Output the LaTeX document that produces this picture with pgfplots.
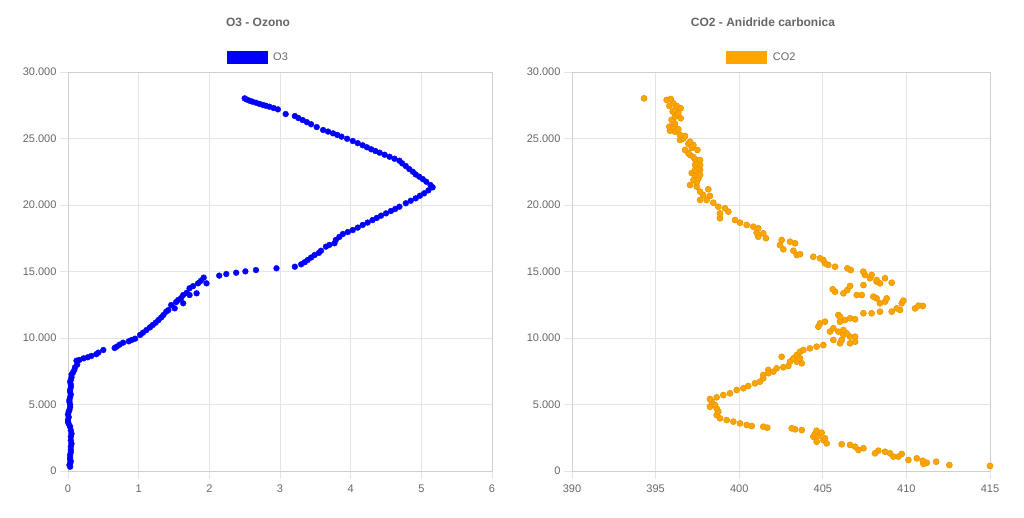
\documentclass[border=0pt]{standalone}
\usepackage{fontspec}
\setmainfont{Liberation Sans}
\usepackage{pgfplots}
\pgfplotsset{compat=1.18}

\definecolor{gridc}{HTML}{E4E4E4}
\definecolor{axisc}{HTML}{CFCFCF}
\definecolor{labc}{HTML}{666666}
\definecolor{ozone}{HTML}{0000FF}
\definecolor{co2c}{HTML}{FFA500}
\definecolor{co2b}{HTML}{E89600}

\pgfplotsset{chartjs/.style={
  scale only axis, height=399pt,
  ymin=0, ymax=30000, ytick={0,5000,...,30000},
  scaled y ticks=false, scaled x ticks=false,
  grid=major, major grid style={gridc, line width=0.8pt},
  axis line style={axisc, line width=0.8pt},
  tick align=outside, major tick length=8pt,
  tick style={gridc, line width=0.8pt},
  xtick pos=bottom, ytick pos=left,
  ticklabel style={font=\fontsize{11}{13}\selectfont, text=labc},
  xticklabel style={yshift=-2.5pt},
  /pgf/number format/1000 sep={.},
  /pgf/number format/assume math mode=true,
  title style={anchor=center, yshift=44pt, font=\bfseries\fontsize{12}{14}\selectfont, text=labc},
  legend style={anchor=center, yshift=15pt, draw=none, fill=none,
    font=\fontsize{11}{13}\selectfont, text=labc},
}}

\begin{document}
\begin{tikzpicture}
\path[use as bounding box] (0,0) rectangle (1024pt,517pt);

% O3 - Ozono
\begin{axis}[chartjs,
  at={(68pt,46pt)}, anchor=south west, width=424pt,
  xmin=0, xmax=6, xtick={0,...,6},
  title={O3 - Ozono}, title style={at={(0.4481,1)}},
  legend style={at={(0.449,1)}},
]
\addplot[only marks, mark=*, mark size=2.9pt, mark options={fill=ozone, draw=ozone},
  legend image code/.code={\fill[ozone] (0pt,-6pt) rectangle (40pt,6pt); \path (44pt,0);}]
  table[row sep=\\] {
x y \\
0.03 320 \\ 0.02 450 \\ 0.03 580 \\ 0.04 720 \\ 0.03 860 \\ 0.03 1000 \\
0.03 1200 \\ 0.04 1400 \\ 0.04 1600 \\ 0.04 1830 \\ 0.05 2050 \\ 0.04 2300 \\
0.04 2580 \\ 0.05 2800 \\ 0.04 3050 \\ 0.03 3330 \\ 0.01 3550 \\ 0.00 3700 \\
0.00 3840 \\ 0.01 4050 \\ 0.00 4250 \\ 0.01 4450 \\ 0.02 4590 \\ 0.03 4800 \\
0.03 5000 \\ 0.02 5200 \\ 0.02 5340 \\ 0.03 5550 \\ 0.04 5750 \\ 0.03 5950 \\
0.03 6090 \\ 0.04 6300 \\ 0.04 6500 \\ 0.03 6700 \\ 0.04 6840 \\ 0.05 7050 \\
0.05 7250 \\ 0.07 7400 \\ 0.09 7600 \\ 0.10 7800 \\ 0.13 8000 \\ 0.12 8290 \\
0.16 8350 \\ 0.22 8470 \\ 0.28 8550 \\ 0.33 8650 \\ 0.40 8780 \\ 0.43 8900 \\
0.50 9100 \\ 0.66 9250 \\ 0.69 9350 \\ 0.73 9500 \\ 0.78 9650 \\ 0.86 9750 \\
0.90 9850 \\ 0.95 9950 \\ 1.02 10230 \\ 1.06 10400 \\ 1.11 10600 \\ 1.16 10800 \\
1.20 10980 \\ 1.24 11150 \\ 1.28 11350 \\ 1.32 11550 \\ 1.35 11730 \\ 1.39 11980 \\
1.42 12100 \\ 1.46 12480 \\ 1.51 12230 \\ 1.53 12700 \\ 1.56 12860 \\ 1.60 13000 \\
1.63 12610 \\ 1.63 13230 \\ 1.68 13400 \\ 1.72 13740 \\ 1.72 13230 \\ 1.77 13900 \\
1.82 13360 \\ 1.84 14110 \\ 1.88 14300 \\ 1.92 14540 \\ 1.96 14110 \\ 2.14 14690 \\
2.24 14810 \\ 2.38 14910 \\ 2.51 15010 \\ 2.66 15110 \\ 2.95 15240 \\ 3.21 15360 \\
3.30 15540 \\ 3.35 15700 \\ 3.39 15860 \\ 3.44 16050 \\ 3.49 16240 \\ 3.55 16400 \\
3.58 16560 \\ 3.65 16870 \\ 3.70 17000 \\ 3.77 17120 \\ 3.79 17370 \\ 3.84 17600 \\
3.89 17820 \\ 3.96 17970 \\ 4.03 18120 \\ 4.10 18300 \\ 4.17 18500 \\ 4.24 18680 \\
4.31 18870 \\ 4.37 19030 \\ 4.43 19200 \\ 4.50 19370 \\ 4.57 19550 \\ 4.63 19700 \\
4.69 19870 \\ 4.78 20130 \\ 4.85 20320 \\ 4.92 20500 \\ 4.98 20700 \\ 5.04 20880 \\
5.10 21100 \\ 5.16 21330 \\ 5.13 21500 \\ 5.07 21750 \\ 5.02 21950 \\ 4.97 22130 \\
4.92 22300 \\ 4.88 22500 \\ 4.83 22700 \\ 4.78 22930 \\ 4.73 23130 \\ 4.69 23330 \\
4.62 23480 \\ 4.55 23630 \\ 4.48 23780 \\ 4.41 23930 \\ 4.35 24060 \\ 4.29 24190 \\
4.23 24340 \\ 4.17 24490 \\ 4.10 24650 \\ 4.03 24810 \\ 3.95 24980 \\ 3.87 25140 \\
3.81 25270 \\ 3.75 25390 \\ 3.68 25520 \\ 3.61 25640 \\ 3.52 25860 \\ 3.44 26070 \\
3.38 26230 \\ 3.32 26390 \\ 3.26 26540 \\ 3.21 26690 \\ 3.08 26840 \\ 2.97 27190 \\
2.91 27290 \\ 2.85 27390 \\ 2.80 27460 \\ 2.76 27520 \\ 2.71 27600 \\ 2.66 27690 \\
2.61 27770 \\ 2.57 27840 \\ 2.53 27930 \\ 2.50 28020 \\
};
\addlegendentry{O3}
\end{axis}

% CO2 - Anidride carbonica
\begin{axis}[chartjs,
  at={(572pt,46pt)}, anchor=south west, width=418pt,
  xmin=390, xmax=415, xtick={390,395,...,415},
  title={CO2 - Anidride carbonica}, title style={at={(0.4569,1)}},
  legend style={at={(0.4545,1)}},
]
\addplot[only marks, mark=*, mark size=3pt, mark options={fill=co2c, draw=co2b, line width=0.6pt},
  legend image code/.code={\fill[co2c] (0pt,-6pt) rectangle (40pt,6pt); \path (44pt,0);}]
  table[row sep=\\] {
x y \\
415.00 380 \\ 412.57 450 \\ 411.78 700 \\ 411.22 620 \\ 411.02 530 \\ 410.98 770 \\
410.62 950 \\ 410.12 830 \\ 409.72 1280 \\ 409.52 1080 \\ 409.22 1080 \\ 409.02 1330 \\
408.72 1450 \\ 408.32 1530 \\ 408.12 1330 \\ 407.43 1710 \\ 407.13 1580 \\ 406.93 1830 \\
406.63 1960 \\ 406.13 2010 \\ 405.23 2080 \\ 405.03 2330 \\ 404.63 2200 \\ 405.13 2460 \\
404.43 2580 \\ 404.73 2630 \\ 404.53 2780 \\ 404.93 2880 \\ 404.63 3030 \\ 403.74 3080 \\
403.34 3130 \\ 403.14 3210 \\ 401.68 3260 \\ 401.44 3330 \\ 400.75 3380 \\ 400.45 3460 \\
400.05 3580 \\ 399.65 3710 \\ 399.25 3830 \\ 398.85 3960 \\ 398.65 4210 \\ 398.75 4460 \\
398.65 4710 \\ 398.25 4830 \\ 398.55 4960 \\ 398.35 5210 \\ 398.25 5410 \\ 398.65 5540 \\
399.05 5710 \\ 399.45 5840 \\ 399.85 6090 \\ 400.25 6220 \\ 400.54 6390 \\ 400.94 6590 \\
401.24 6720 \\ 401.44 6970 \\ 401.74 7600 \\ 401.44 7220 \\ 401.74 7350 \\ 402.04 7470 \\
402.24 7720 \\ 402.64 7800 \\ 402.94 7900 \\ 403.74 8100 \\ 403.04 8220 \\ 403.44 8220 \\
403.24 8470 \\ 403.64 8470 \\ 402.54 8590 \\ 403.44 8720 \\ 403.64 8970 \\ 403.84 9100 \\
404.23 9220 \\ 404.63 9350 \\ 405.03 9470 \\ 406.03 9600 \\ 406.63 9600 \\ 406.93 9720 \\
405.63 9850 \\ 406.13 9850 \\ 406.63 10100 \\ 406.93 10100 \\ 406.23 10230 \\ 406.43 10350 \\
405.43 10480 \\ 405.93 10480 \\ 406.23 10600 \\ 405.63 10730 \\ 404.73 10850 \\ 404.83 11100 \\
405.13 11230 \\ 406.03 11230 \\ 406.33 11350 \\ 406.63 11480 \\ 406.93 11410 \\ 405.93 11730 \\
406.03 11600 \\ 407.43 11860 \\ 407.92 11860 \\ 408.42 11980 \\ 409.12 11980 \\ 409.62 12110 \\
409.42 12230 \\ 410.52 12230 \\ 410.98 12410 \\ 410.72 12430 \\ 409.72 12610 \\ 408.42 12610 \\
408.72 12730 \\ 409.82 12810 \\ 408.22 12980 \\ 408.82 12980 \\ 408.02 13110 \\ 407.03 13230 \\
407.33 13230 \\ 406.23 13360 \\ 405.73 13480 \\ 405.59 13660 \\ 406.47 13610 \\ 406.63 13910 \\
407.43 13980 \\ 408.22 14230 \\ 409.12 14160 \\ 408.42 14110 \\ 408.22 14360 \\ 408.72 14490 \\
407.82 14490 \\ 407.52 14740 \\ 407.92 14740 \\ 407.42 14990 \\ 406.67 15110 \\ 406.47 15240 \\
405.73 15360 \\ 405.33 15490 \\ 405.13 15610 \\ 405.03 15860 \\ 404.83 15990 \\ 404.43 16110 \\
403.44 16240 \\ 403.64 16300 \\ 403.24 16560 \\ 402.64 16670 \\ 402.44 16990 \\ 403.34 17120 \\
403.04 17240 \\ 402.54 17370 \\ 401.60 17500 \\ 401.14 17620 \\ 401.44 17870 \\ 401.04 17920 \\
401.14 18250 \\ 400.84 18370 \\ 400.45 18500 \\ 400.05 18670 \\ 399.75 18870 \\ 398.85 19000 \\
398.85 19370 \\ 399.35 19500 \\ 399.15 19750 \\ 398.75 19870 \\ 398.45 20170 \\ 397.66 20380 \\
398.05 20380 \\ 398.25 20680 \\ 397.85 20750 \\ 398.15 21180 \\ 397.66 21000 \\ 397.46 21380 \\
397.06 21500 \\ 397.46 21700 \\ 397.26 21880 \\ 397.56 22000 \\ 397.36 22260 \\ 397.66 22260 \\
397.16 22400 \\ 397.36 22630 \\ 397.66 22630 \\ 397.56 22800 \\ 397.36 23010 \\ 397.66 23010 \\
397.46 23200 \\ 397.36 23440 \\ 397.66 23380 \\ 397.26 23600 \\ 397.06 23760 \\ 396.96 23900 \\
397.50 24140 \\ 396.76 24140 \\ 397.16 24300 \\ 397.26 24510 \\ 396.96 24600 \\ 397.06 24760 \\
396.46 24890 \\ 396.66 25000 \\ 396.76 25190 \\ 396.46 25260 \\ 396.16 25510 \\ 395.86 25590 \\
396.36 25700 \\ 395.82 25890 \\ 396.06 25890 \\ 396.16 26100 \\ 396.06 26260 \\ 395.96 26400 \\
396.16 26640 \\ 396.50 26520 \\ 396.26 26800 \\ 396.36 26900 \\ 396.02 27020 \\ 396.16 27150 \\
395.82 27450 \\ 396.26 27450 \\ 396.50 27270 \\ 396.06 27650 \\ 395.66 27900 \\ 395.90 27970 \\
394.31 28020 \\
};
\addlegendentry{CO2}
\end{axis}
\end{tikzpicture}
\end{document}
